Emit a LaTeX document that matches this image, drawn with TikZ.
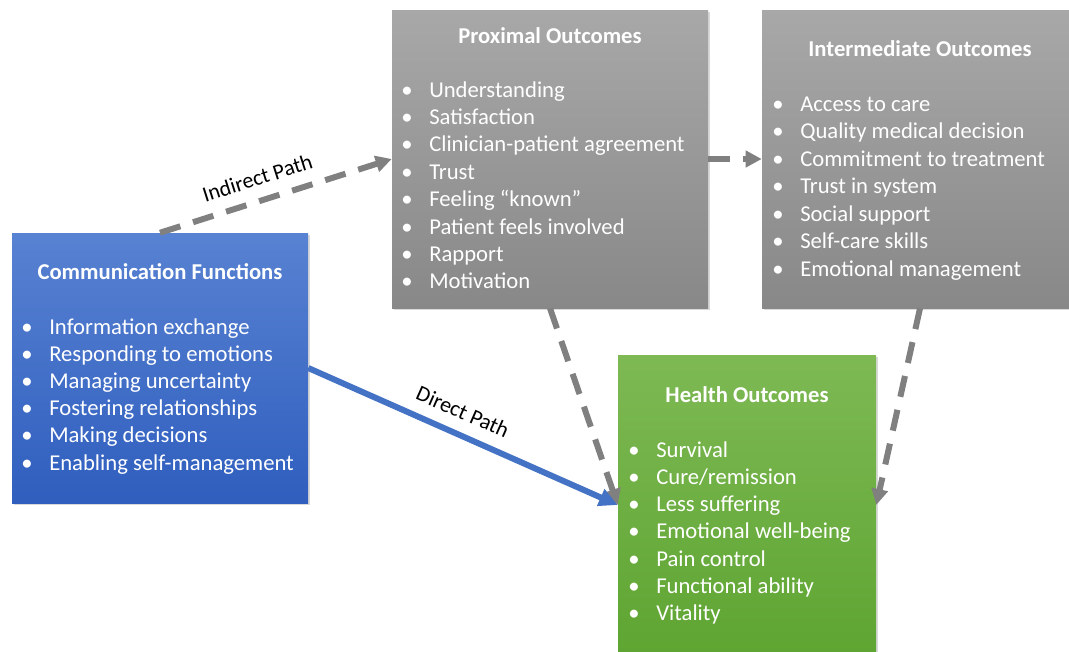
\documentclass[tikz,border=0pt]{standalone}
\usepackage{fontspec}
\setmainfont{Carlito}
\usetikzlibrary{arrows.meta,shadows,positioning}
\definecolor{BlueTop}{RGB}{88,130,210}
\definecolor{BlueBot}{RGB}{47,94,190}
\definecolor{GrayTop}{RGB}{168,168,168}
\definecolor{GrayBot}{RGB}{136,136,136}
\definecolor{GreenTop}{RGB}{126,185,84}
\definecolor{GreenBot}{RGB}{94,165,50}
\definecolor{PathGray}{RGB}{128,128,128}
\definecolor{PathBlue}{RGB}{68,114,196}

\begin{document}
\begin{tikzpicture}
  [x=0.75pt,y=-0.75pt,font=\fontsize{17}{20}\selectfont,
   box/.style={rectangle,draw=none,inner sep=0pt,
     drop shadow={opacity=.3,shadow xshift=1.5pt,shadow yshift=-1.5pt}},
   title/.style={font=\fontsize{17}{20}\selectfont\bfseries,text=white,inner sep=0pt},
   item/.style={anchor=base west,inner sep=0pt,text=white},
   lbl/.style={font=\fontsize{16.5}{19}\selectfont,text=black,inner sep=0pt},
   dashpath/.style={PathGray,line width=4.5pt,dash pattern=on 16pt off 10pt,
     -{Triangle[length=12pt,width=12pt]}},
   directpath/.style={PathBlue,line width=4.5pt,-{Triangle[length=14pt,width=13pt]}}]
  \useasboundingbox (0,0) rectangle (1069,651);

  % boxes
  \node (comm) [box,minimum width=222pt,minimum height=202.5pt,top color=BlueTop,bottom color=BlueBot] at (160,368) {};
  \node (prox) [box,minimum width=237pt,minimum height=223.5pt,top color=GrayTop,bottom color=GrayBot] at (550,159) {};
  \node (inter) [box,minimum width=237pt,minimum height=223.5pt,top color=GrayTop,bottom color=GrayBot] at (920,159) {};
  \node (health) [box,minimum width=193.5pt,minimum height=225pt,top color=GreenTop,bottom color=GreenBot] at (747,505) {};

  % titles
  \node (commtitle) [title] at (160,272) {Communication Functions};
  \node (proxtitle) [title] at (550,36) {Proximal Outcomes};
  \node (intertitle) [title] at (920,49) {Intermediate Outcomes};
  \node (healthtitle) [title] at (747,395) {Health Outcomes};

  % bullet lists
  \foreach \t [count=\i] in {Information exchange,Responding to emotions,Managing uncertainty,
      Fostering relationships,Making decisions,Enabling self-management}
    \node (comm\i) [item] at (21,334+27.2*\i-27.2) {\makebox[21pt][l]{\textbullet}\t};
  \foreach \t [count=\i] in {Understanding,Satisfaction,Clinician-patient agreement,Trust,
      Feeling “known”,Patient feels involved,Rapport,Motivation}
    \node (prox\i) [item] at (401,97+27.4*\i-27.4) {\makebox[21pt][l]{\textbullet}\t};
  \foreach \t [count=\i] in {Access to care,Quality medical decision,Commitment to treatment,
      Trust in system,Social support,Self-care skills,Emotional management}
    \node (inter\i) [item] at (772,111+27.5*\i-27.5) {\makebox[21pt][l]{\textbullet}\t};
  \foreach \t [count=\i] in {Survival,Cure/remission,Less suffering,Emotional well-being,
      Pain control,Functional ability,Vitality}
    \node (health\i) [item] at (628,457+27.3*\i-27.3) {\makebox[21pt][l]{\textbullet}\t};

  % paths
  \draw[dashpath] (comm.north) -- node[lbl,pos=.45,above=9pt,sloped] {Indirect Path} (prox.west);
  \draw[dashpath] (prox.east) -- (inter.west);
  \draw[dashpath] (prox.south) -- (health.west);
  \draw[dashpath] (inter.south) -- (health.east);
  \draw[directpath] (comm.east) -- node[lbl,pos=.47,above=9pt,sloped] {Direct Path} (health.west);
\end{tikzpicture}
\end{document}
